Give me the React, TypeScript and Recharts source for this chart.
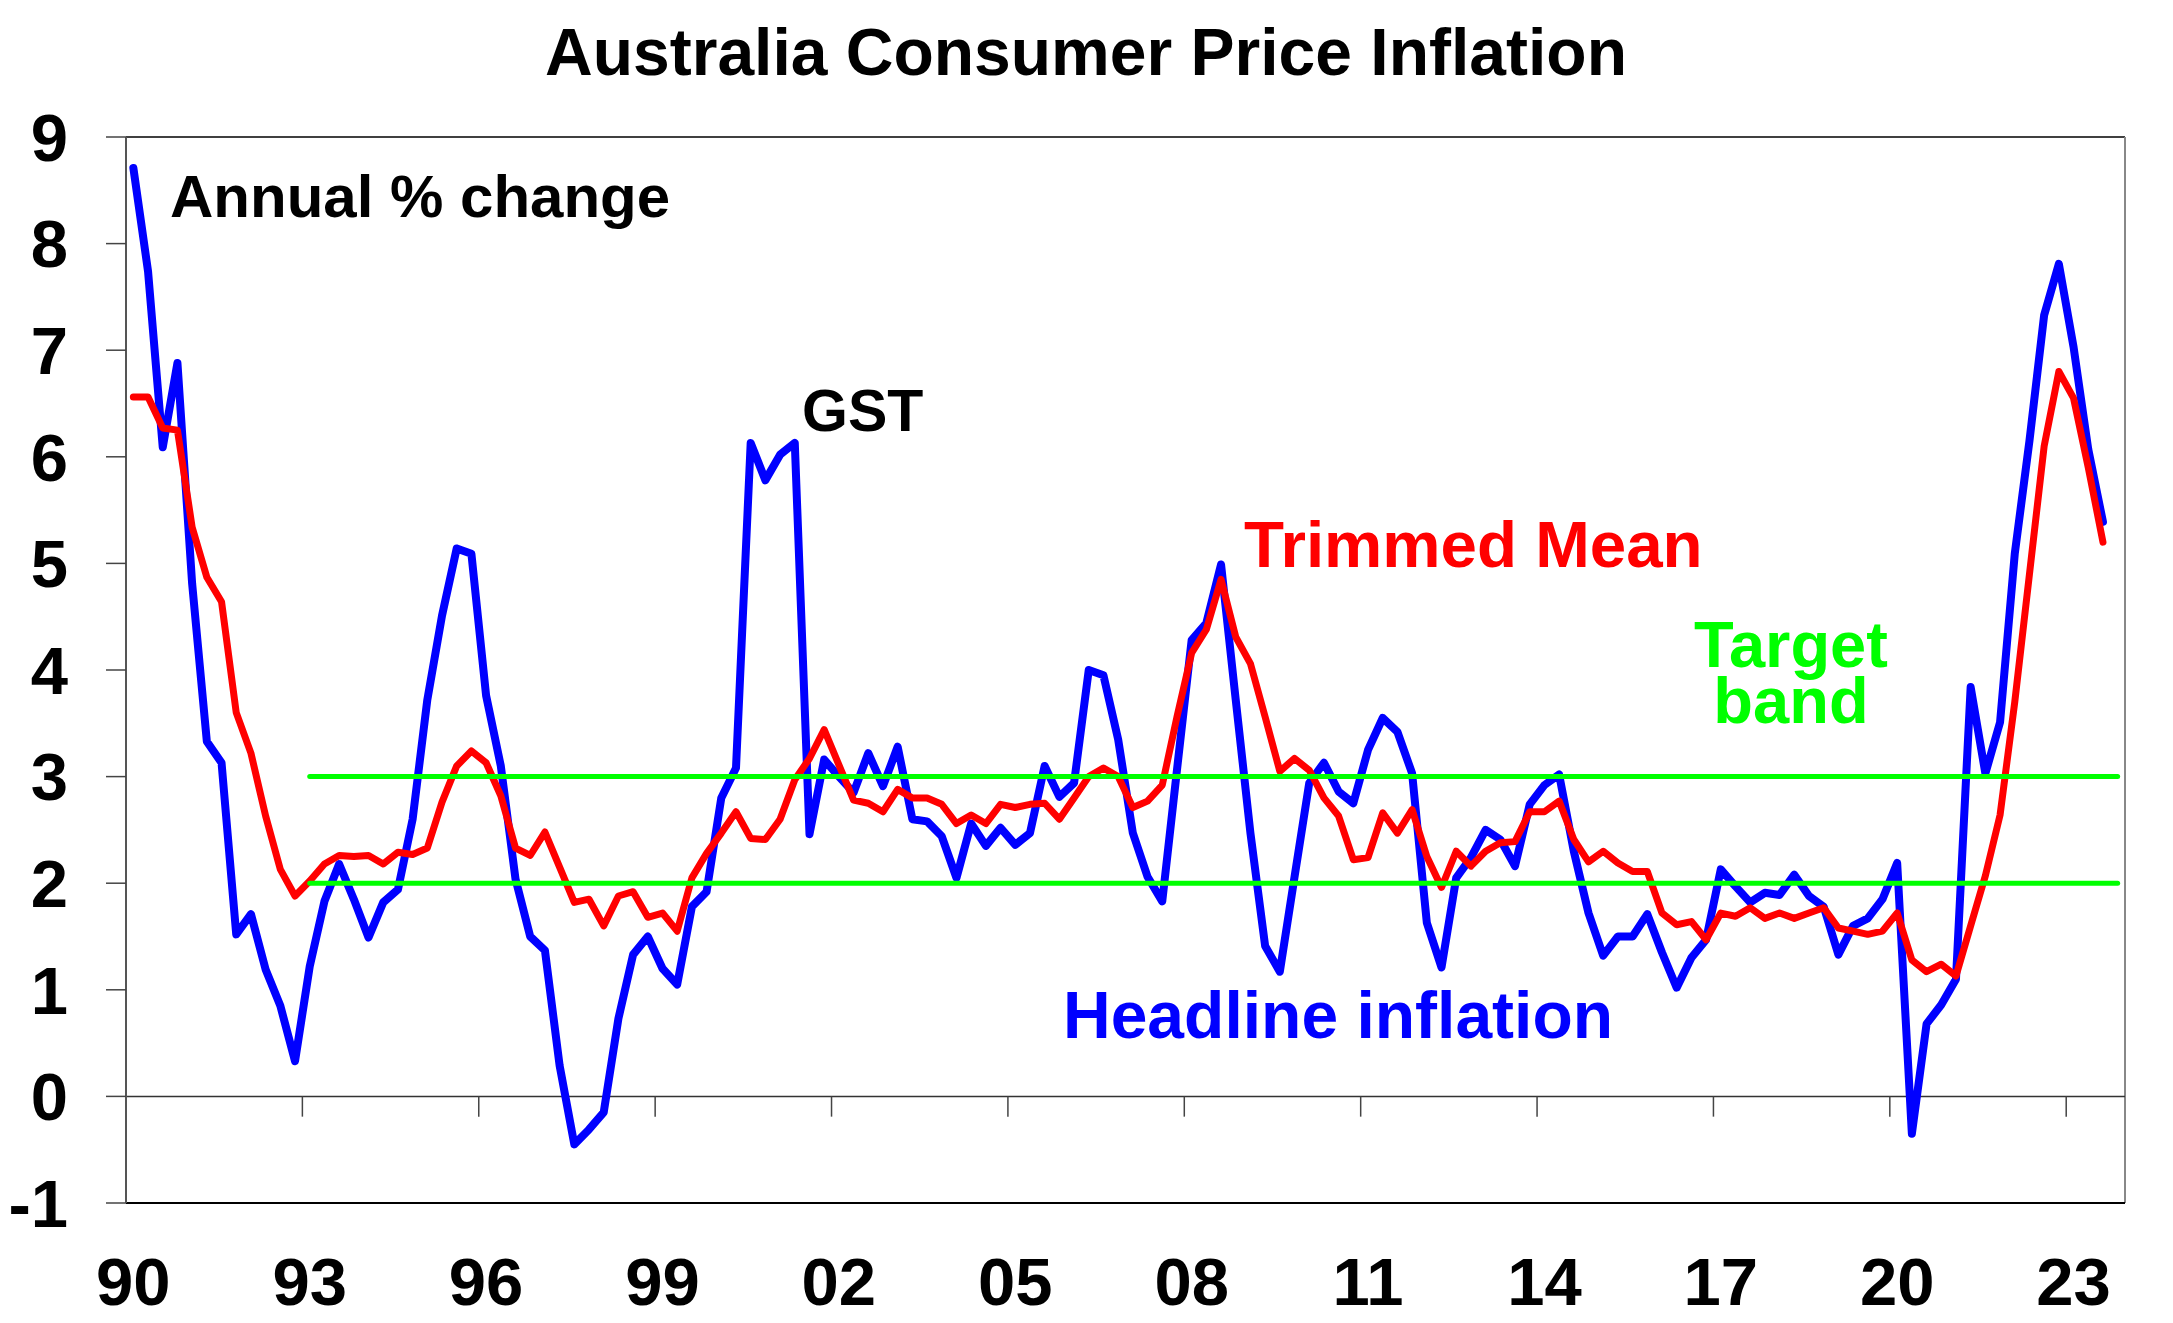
import React from "react";
import { LineChart, Line, XAxis, YAxis, ReferenceLine } from "recharts";

// ---- categories ----
const years = [
  1990, 1991, 1992, 1993, 1994, 1995, 1996, 1997, 1998, 1999, 2000, 2001,
  2002, 2003, 2004, 2005, 2006, 2007, 2008, 2009, 2010, 2011, 2012, 2013,
  2014, 2015, 2016, 2017, 2018, 2019, 2020, 2021, 2022, 2023,
];
const quarterMonths = ["Mar", "Jun", "Sep", "Dec"];

// ---- series (annual % change, quarterly, Mar-1990 .. Sep-2023) ----
const headline = [
  8.71, 7.74, 6.09, 6.88,
  4.81, 3.33, 3.13, 1.52,
  1.71, 1.19, 0.85, 0.33,
  1.22, 1.83, 2.18, 1.85,
  1.49, 1.82, 1.94, 2.6,
  3.72, 4.51, 5.14, 5.09,
  3.76, 3.1, 2.04, 1.5,
  1.37, 0.29, -0.45, -0.31,
  -0.15, 0.73, 1.33, 1.5,
  1.2, 1.05, 1.78, 1.92,
  2.8, 3.08, 6.13, 5.78,
  6.02, 6.13, 2.46, 3.16,
  3.0, 2.85, 3.22, 2.91,
  3.28, 2.6, 2.58, 2.44,
  2.05, 2.56, 2.35, 2.52,
  2.36, 2.47, 3.1, 2.81,
  2.94, 4.0, 3.95, 3.35,
  2.47, 2.06, 1.83, 3.06,
  4.28, 4.44, 4.99, 3.72,
  2.47, 1.41, 1.17, 2.06,
  2.94, 3.13, 2.86, 2.75,
  3.25, 3.55, 3.42, 3.03,
  1.63, 1.21, 2.05, 2.24,
  2.5, 2.41, 2.16, 2.74,
  2.92, 3.02, 2.3, 1.72,
  1.32, 1.5, 1.5, 1.71,
  1.35, 1.02, 1.3, 1.47,
  2.13, 1.97, 1.82, 1.91,
  1.89, 2.08, 1.88, 1.78,
  1.33, 1.6, 1.67, 1.85,
  2.19, -0.35, 0.68, 0.86,
  1.1, 3.84, 3.03, 3.51,
  5.09, 6.15, 7.33, 7.81,
  7.03, 6.07, 5.39,
];

const trimmedMean = [
  6.56, 6.56, 6.27, 6.25,
  5.34, 4.87, 4.64, 3.6,
  3.22, 2.63, 2.13, 1.88,
  2.02, 2.18, 2.26, 2.25,
  2.26, 2.18, 2.29, 2.27,
  2.33, 2.76, 3.1, 3.24,
  3.13, 2.82, 2.33, 2.26,
  2.48, 2.15, 1.82, 1.85,
  1.6, 1.88, 1.92, 1.68,
  1.72, 1.55, 2.05, 2.28,
  2.47, 2.67, 2.42, 2.41,
  2.6, 2.97, 3.17, 3.44,
  3.11, 2.78, 2.75, 2.67,
  2.88, 2.8, 2.8, 2.74,
  2.56, 2.64, 2.56, 2.74,
  2.71, 2.74, 2.75, 2.6,
  2.8, 3.0, 3.08, 3.0,
  2.71, 2.77, 2.92, 3.56,
  4.16, 4.38, 4.85, 4.31,
  4.06, 3.56, 3.05, 3.17,
  3.06, 2.8, 2.63, 2.22,
  2.24, 2.66, 2.47, 2.69,
  2.25, 1.96, 2.3, 2.16,
  2.3, 2.38, 2.39, 2.67,
  2.67, 2.77, 2.41, 2.2,
  2.3, 2.19, 2.11, 2.11,
  1.72, 1.61, 1.64, 1.47,
  1.72, 1.69, 1.77, 1.67,
  1.72, 1.67, 1.72, 1.77,
  1.58, 1.55, 1.52, 1.55,
  1.72, 1.28, 1.17, 1.24,
  1.13, 1.6, 2.07, 2.64,
  3.7, 4.9, 6.1, 6.8,
  6.55, 5.9, 5.2,
];

// ---- target band ----
const targetBand = [2, 3];
const targetBandStart = "Mar-1993";

// ---- ticks ----
const xTickYears = [1990, 1993, 1996, 1999, 2002, 2005, 2008, 2011, 2014, 2017, 2020, 2023];
const xTickLabels = ["90", "93", "96", "99", "02", "05", "08", "11", "14", "17", "20", "23"];
const yTicks = [-1, 0, 1, 2, 3, 4, 5, 6, 7, 8, 9];

// ---- table built from the arrays ----
const quarters = years.flatMap((y) => quarterMonths.map((m) => `${m}-${y}`));
const bandStartIdx = quarters.indexOf(targetBandStart);
const rows = quarters.map((q, i) => ({
  i,
  q,
  headline: i < headline.length ? headline[i] : null,
  trimmed: i < trimmedMean.length ? trimmedMean[i] : null,
  bandLow: i >= bandStartIdx ? targetBand[0] : null,
  bandHigh: i >= bandStartIdx ? targetBand[1] : null,
}));
const xTickIdx = xTickYears.map((y) => quarters.indexOf(`Mar-${y}`));

const FONT = "'Liberation Sans', Arial, Helvetica, sans-serif";
const W = 2173;
const H = 1323;

export default function App() {
  return (
    <div style={{ position: "absolute", left: 0, top: 0, width: W, height: H, background: "#fff" }}>
      <LineChart
        width={W}
        height={H}
        data={rows}
        margin={{ top: 137, right: 48, bottom: 0, left: 0 }}
        style={{ fontFamily: FONT }}
      >
        <XAxis
          type="number"
          dataKey="i"
          domain={[-0.5, quarters.length - 0.5]}
          ticks={xTickIdx}
          interval={0}
          allowDataOverflow
          tickFormatter={(v) => xTickLabels[xTickIdx.indexOf(v)] ?? ""}
          height={120}
          tickLine={false}
          tickSize={0}
          tickMargin={54}
          axisLine={{ stroke: "#000", strokeWidth: 2 }}
          tick={{ fill: "#000", fontSize: 67, fontWeight: "bold", fontFamily: FONT }}
        />
        <YAxis
          type="number"
          domain={[-1, 9]}
          ticks={yTicks}
          interval={0}
          allowDataOverflow
          width={126}
          tickSize={20}
          tickMargin={38}
          tickLine={{ stroke: "#444", strokeWidth: 1.5 }}
          axisLine={{ stroke: "#555", strokeWidth: 2 }}
          tick={{ fill: "#000", fontSize: 67, fontWeight: "bold", fontFamily: FONT }}
        />
        <ReferenceLine y={9} stroke="#000" strokeWidth={1.5} />
        <ReferenceLine x={quarters.length - 0.5} stroke="#888" strokeWidth={2} />
        <ReferenceLine y={0} stroke="#333" strokeWidth={1.5} />
        {xTickIdx
          .filter((v) => v > 0)
          .map((v) => (
            <ReferenceLine
              key={`tm-${v}`}
              segment={[
                { x: v - 0.5, y: 0 },
                { x: v - 0.5, y: -0.19 },
              ]}
              stroke="#444"
              strokeWidth={1.5}
            />
          ))}
        <Line
          type="linear"
          dataKey="headline"
          stroke="#0000FF"
          strokeWidth={8}
          dot={false}
          activeDot={false}
          isAnimationActive={false}
          strokeLinecap="round"
          strokeLinejoin="round"
        />
        <Line
          type="linear"
          dataKey="trimmed"
          stroke="#FF0000"
          strokeWidth={7}
          dot={false}
          activeDot={false}
          isAnimationActive={false}
          strokeLinecap="round"
          strokeLinejoin="round"
        />
        <Line
          type="linear"
          dataKey="bandLow"
          stroke="#00FF00"
          strokeWidth={5}
          dot={false}
          activeDot={false}
          isAnimationActive={false}
          strokeLinecap="round"
        />
        <Line
          type="linear"
          dataKey="bandHigh"
          stroke="#00FF00"
          strokeWidth={5}
          dot={false}
          activeDot={false}
          isAnimationActive={false}
          strokeLinecap="round"
        />
      </LineChart>
      <svg
        width={W}
        height={H}
        style={{ position: "absolute", left: 0, top: 0, pointerEvents: "none" }}
      >
        <g fontFamily={FONT} fontWeight="bold">
          <text x={1086} y={75} fontSize={66} textAnchor="middle" fill="#000">
            Australia Consumer Price Inflation
          </text>
          <text x={170} y={217} fontSize={60} fill="#000">
            Annual % change
          </text>
          <text x={802} y={431} fontSize={59} fill="#000">
            GST
          </text>
          <text x={1244} y={567} fontSize={65.5} fill="#FF0000">
            Trimmed Mean
          </text>
          <text x={1791} y={667} fontSize={65} textAnchor="middle" fill="#00FF00">
            Target
          </text>
          <text x={1791} y={723} fontSize={65} textAnchor="middle" fill="#00FF00">
            band
          </text>
          <text x={1063} y={1038} fontSize={66} fill="#0000FF">
            Headline inflation
          </text>
        </g>
      </svg>
    </div>
  );
}
